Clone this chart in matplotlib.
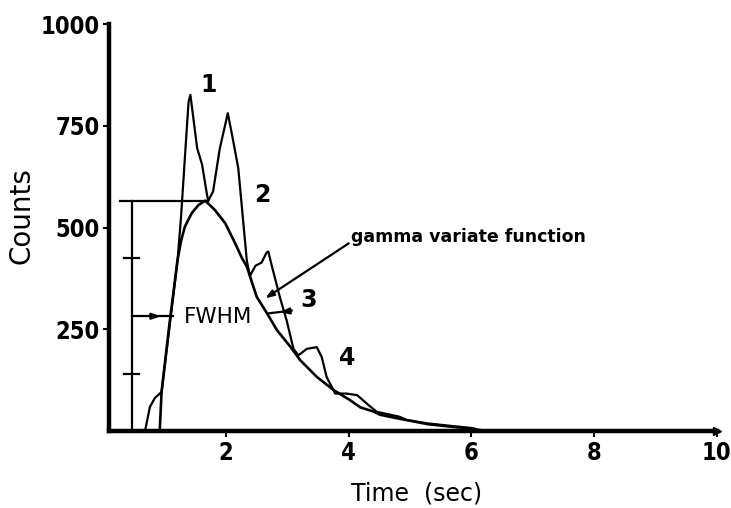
import matplotlib
matplotlib.use("Agg")
import matplotlib.pyplot as plt
from matplotlib.font_manager import FontProperties

# ---- data ----
data_t = [0.68, 0.76, 0.84, 0.95, 1.21, 1.27, 1.34, 1.39, 1.42, 1.53, 1.61, 1.69, 1.71,
          1.79, 1.90, 2.03, 2.12, 2.20, 2.25, 2.34, 2.39, 2.48, 2.58, 2.66, 2.69, 2.74,
          2.88, 2.99, 3.10, 3.18, 3.32, 3.48, 3.56, 3.64, 3.78, 3.96, 4.14, 4.32, 4.46,
          4.83, 4.95, 5.27, 5.70, 6.03, 6.14]
data_c = [0, 59, 81, 96, 418, 532, 695, 809, 826, 695, 655, 581, 565,
          589, 695, 781, 711, 646, 565, 418, 381, 406, 414, 438, 441, 410,
          328, 271, 202, 186, 202, 206, 182, 133, 92, 92, 88, 64, 47,
          35, 27, 19, 12, 7, 0]

gamma_t = [0.92, 0.95, 1.08, 1.21, 1.27, 1.33, 1.44, 1.55, 1.66, 1.82, 1.99, 2.15, 2.26,
           2.34, 2.50, 2.67, 2.83, 3.05, 3.21, 3.48, 3.75, 4.02, 4.19, 4.40, 4.51, 4.80,
           5.28, 5.70, 6.03, 6.15]
gamma_c = [0, 96, 265, 420, 469, 502, 535, 555, 566, 543, 510, 461, 425,
           404, 330, 289, 248, 207, 174, 133, 101, 76, 58, 48, 40, 31,
           17, 10, 5, 2]

x_ticks = [2, 4, 6, 8, 10]
y_ticks = [250, 500, 750, 1000]

peak_c = 565          # gamma peak level
fwhm_c = 282          # half maximum
frac_ticks = [141, 282, 424]

peak_labels = ["1", "2", "3", "4"]
peak_label_t = [1.71, 2.59, 3.34, 3.97]
peak_label_c = [850, 580, 322, 179]

# ---- figure ----
fig = plt.figure(figsize=(7.31, 5.08), dpi=100)
ax = fig.add_axes([0.1497, 0.1516, 0.8308, 0.801])

lw = 1.6
ax.plot(data_t, data_c, color="black", lw=lw, solid_joinstyle="round")
ax.plot(gamma_t, gamma_c, color="black", lw=lw + 0.3, solid_joinstyle="round")

# peak level line and vertical scale
ax.plot([0.27, 1.71], [peak_c, peak_c], color="black", lw=lw)
ax.plot([0.46, 0.46], [0, peak_c], color="black", lw=lw)
for fc in frac_ticks:
    if fc != fwhm_c:
        ax.plot([0.33, 0.59], [fc, fc], color="black", lw=lw)

# FWHM arrows
ax.plot([0.46, 1.14], [fwhm_c, fwhm_c], color="black", lw=lw)
ax.annotate("", xy=(0.98, fwhm_c), xytext=(0.70, fwhm_c),
            arrowprops=dict(arrowstyle="-|>,head_length=0.5,head_width=0.18",
                            color="black", lw=lw))
ax.plot([2.69, 3.07], [289, 296], color="black", lw=lw)
ax.annotate("", xy=(2.84, 291), xytext=(3.05, 295),
            arrowprops=dict(arrowstyle="-|>,head_length=0.5,head_width=0.18",
                            color="black", lw=lw))
ax.text(1.87, 281, "FWHM", ha="center", va="center", fontsize=15.5,
        family="DejaVu Sans")

# gamma variate pointer
ax.annotate("", xy=(2.64, 326), xytext=(4.0, 461),
            arrowprops=dict(arrowstyle="-|>,head_length=0.5,head_width=0.18",
                            color="black", lw=lw, shrinkA=0, shrinkB=0))
ax.text(4.03, 477, "gamma variate function", ha="left", va="center",
        fontsize=12.5, fontweight="bold", family="DejaVu Sans")

for lab, t, c in zip(peak_labels, peak_label_t, peak_label_c):
    ax.text(t, c, lab, ha="center", va="center", fontsize=17, fontweight="bold",
            family="DejaVu Sans")

# axes styling
ax.set_xlim(0.1, 10)
ax.set_ylim(0, 1000)
for s in ["top", "right"]:
    ax.spines[s].set_visible(False)
for s in ["left", "bottom"]:
    ax.spines[s].set_linewidth(3.2)
ax.set_xticks(x_ticks)
ax.set_yticks(y_ticks)
tick_fp = FontProperties(family="DejaVu Sans", weight="bold", stretch="condensed", size=17)
ax.set_xticklabels([str(v) for v in x_ticks], fontproperties=tick_fp)
ax.set_yticklabels([str(v) for v in y_ticks], fontproperties=tick_fp)
ax.tick_params(direction="out", length=4, width=1.5, pad=3)
ax.plot([1.0], [0], marker=">", color="black", markersize=6, transform=ax.transAxes,
        clip_on=False)

ax.set_xlabel("Time  (sec)", fontsize=17, family="DejaVu Sans")
ax.xaxis.set_label_coords(0.505, -0.125)
ax.set_ylabel("Counts", fontsize=20, family="DejaVu Sans")
ax.yaxis.set_label_coords(-0.122, 0.53)

fig.savefig("out.png", dpi=100)
